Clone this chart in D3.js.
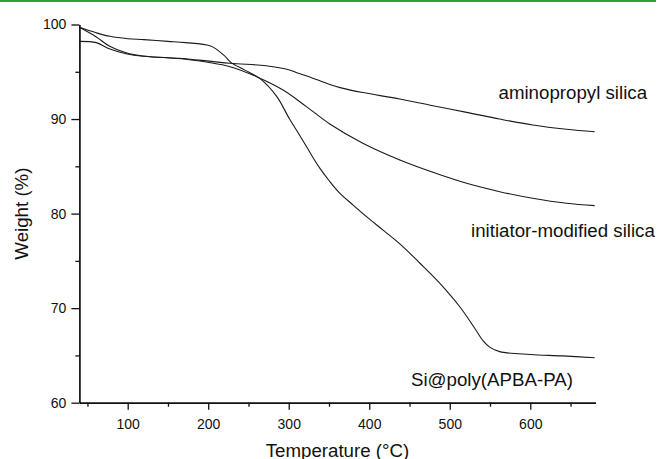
<!DOCTYPE html>
<html>
<head>
<meta charset="utf-8">
<script src="https://cdn.jsdelivr.net/npm/d3@7"></script>
<style>
  body { margin: 0; background: #fff; }
  svg { display: block; font-family: 'Liberation Sans', Arial, sans-serif; }
</style>
</head>
<body>
<div id="viz"></div>
<script>
const margin = {top: 24.5, right: 61.5, bottom: 56.3, left: 79.4};
const width = 657;
const height = 459;
const lineColor = '#1a1a1a';

// TGA data (temperature in °C, weight in %)
const siPolyTemp = [40, 60, 78, 100, 120, 150, 172, 202, 210, 220, 228, 245, 264, 285, 301, 312, 322, 331, 339, 350, 363, 380, 397, 418, 438, 463, 488, 512, 530, 541, 550, 562, 600, 640, 680];
const siPolyWeight = [99.7, 99.15, 98.75, 98.5, 98.4, 98.22, 98.08, 97.76, 97.4, 96.7, 96.0, 95.2, 94.3, 92.4, 90.0, 88.5, 87.1, 85.8, 84.75, 83.5, 82.2, 80.9, 79.65, 78.2, 76.8, 74.75, 72.6, 70.2, 68.0, 66.6, 65.85, 65.4, 65.1, 64.95, 64.75];

const aminoTemp = [40, 61, 77, 98, 119, 165, 172, 227, 272, 301, 310, 326, 340, 351, 365, 392, 438, 479, 521, 562, 603, 645, 680];
const aminoWeight = [98.22, 98.08, 97.44, 96.91, 96.64, 96.43, 96.38, 95.9, 95.64, 95.19, 94.9, 94.45, 94.0, 93.65, 93.3, 92.8, 92.12, 91.41, 90.71, 90.0, 89.37, 88.92, 88.66];

const initTemp = [40, 61, 77, 98, 119, 172, 227, 260, 293, 322, 351, 392, 438, 479, 521, 562, 603, 645, 680];
const initWeight = [99.7, 98.68, 97.73, 97.02, 96.67, 96.32, 95.54, 94.48, 93.07, 91.31, 89.48, 87.44, 85.67, 84.37, 83.2, 82.32, 81.62, 81.09, 80.84];

const seriesNames = ['aminopropyl silica', 'initiator-modified silica', 'Si@poly(APBA-PA)'];
const xTicks = [100, 200, 300, 400, 500, 600];
const xMinorTicks = [50, 150, 250, 350, 450, 550, 650];
const yTicks = [60, 70, 80, 90, 100];
const yMinorTicks = [65, 75, 85, 95];

const svg = d3.select('#viz')
  .append('svg')
    .attr('width', width)
    .attr('height', height)
    .attr('viewBox', [0, 0, width, height]);

// green rule on top of the figure
svg.append('rect')
  .attr('x', 0)
  .attr('y', 0)
  .attr('width', 656)
  .attr('height', 2)
  .attr('fill', '#2e9e3e');

const xScale = d3.scaleLinear()
  .domain([40, 681])
  .range([margin.left, width - margin.right]);

const yScale = d3.scaleLinear()
  .domain([60, 100])
  .range([height - margin.bottom, margin.top]);

// minor ticks first
svg.append('g')
  .attr('transform', `translate(0, ${height - margin.bottom})`)
  .call(d3.axisBottom(xScale).tickValues(xMinorTicks).tickSize(4).tickFormat(''))
  .call(g => g.select('.domain').remove());

svg.append('g')
  .attr('transform', `translate(${margin.left}, 0)`)
  .call(d3.axisLeft(yScale).tickValues(yMinorTicks).tickSize(4).tickFormat(''))
  .call(g => g.select('.domain').remove());

const xAxis = svg.append('g')
  .attr('transform', `translate(0, ${height - margin.bottom})`)
  .call(d3.axisBottom(xScale).tickValues(xTicks).tickSize(7).tickSizeOuter(0).tickPadding(9));

const yAxis = svg.append('g')
  .attr('transform', `translate(${margin.left}, 0)`)
  .call(d3.axisLeft(yScale).tickValues(yTicks).tickSize(8).tickSizeOuter(0).tickPadding(5));

svg.selectAll('.tick line').attr('stroke', '#111').attr('stroke-width', 1.3);
svg.selectAll('.domain').attr('stroke', '#111').attr('stroke-width', 1.7);
svg.selectAll('.tick text')
  .attr('font-size', 14)
  .attr('font-family', "'Liberation Sans', Arial, sans-serif")
  .attr('fill', '#111');

// axis titles
svg.append('text')
  .attr('x', (margin.left + width - margin.right) / 2)
  .attr('y', 456.5)
  .attr('text-anchor', 'middle')
  .attr('font-size', 18.7)
  .attr('fill', '#111')
  .text('Temperature (°C)');

svg.append('text')
  .attr('transform', `translate(28, ${(margin.top + height - margin.bottom) / 2}) rotate(-90)`)
  .attr('text-anchor', 'middle')
  .attr('font-size', 18.7)
  .attr('fill', '#111')
  .text('Weight (%)');

// curves
const line = d3.line()
  .x(d => xScale(d[0]))
  .y(d => yScale(d[1]))
  .curve(d3.curveCatmullRom.alpha(0.5));

const series = [
  d3.zip(aminoTemp, aminoWeight),
  d3.zip(initTemp, initWeight),
  d3.zip(siPolyTemp, siPolyWeight)
];

svg.append('g')
  .selectAll('path')
  .data(series)
  .join('path')
    .attr('d', d => line(d))
    .attr('fill', 'none')
    .attr('stroke', lineColor)
    .attr('stroke-width', 1.1);

// curve labels
const labelPos = [[498.5, 98.5], [471, 236.7], [411, 386]];
svg.append('g')
  .selectAll('text')
  .data(seriesNames)
  .join('text')
    .attr('x', (d, i) => labelPos[i][0])
    .attr('y', (d, i) => labelPos[i][1])
    .attr('font-size', 18.7)
    .attr('fill', '#111')
    .text(d => d);
</script>
</body>
</html>
